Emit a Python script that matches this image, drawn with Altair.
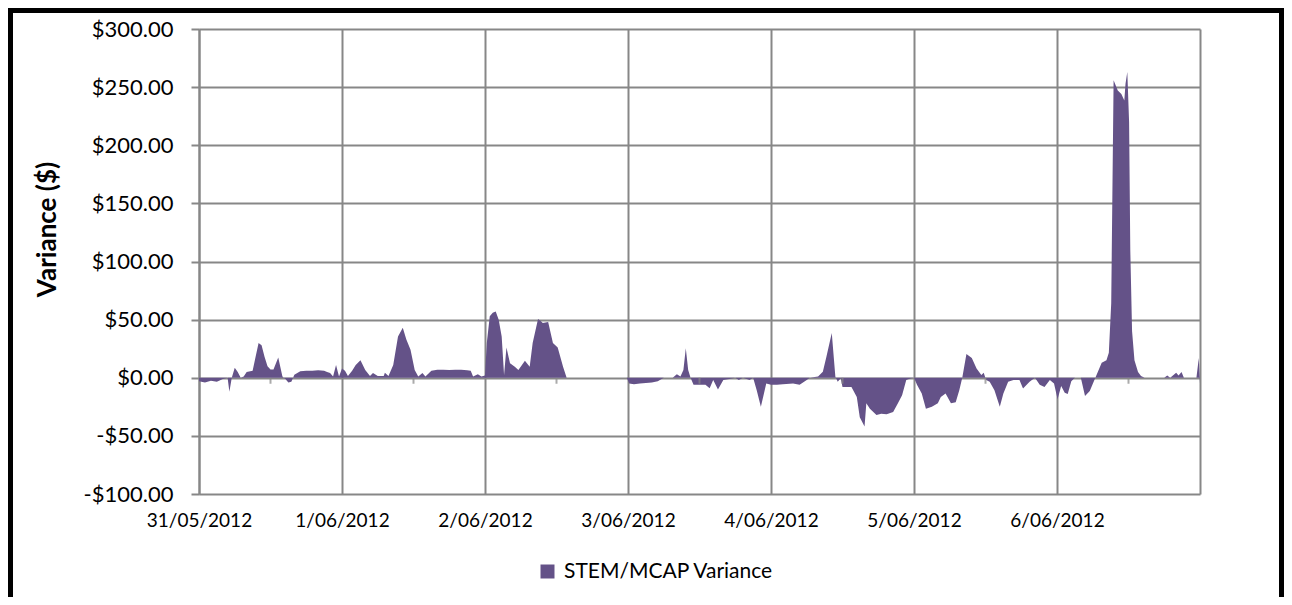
import altair as alt
import pandas as pd

# ---- data (hours since 31/05/2012 00:00, variance in $) ----
hours = [
    0, 1, 2, 3, 4, 4.8, 5.1, 5.5, 6, 6.5, 7, 7.5, 8, 9, 9.5, 10, 10.5, 11, 11.5, 12,
    12.5, 13.3, 14, 14.5, 15, 15.5, 16, 17, 18, 19, 20, 21, 21.5, 22, 22.5, 23, 23.5,
    24, 24.5, 25, 25.7, 26.3, 27.1, 27.9, 28.7, 29.2, 30, 31, 31.2, 31.8, 32.6, 33.4,
    34.2, 34.8, 35.5, 36.2, 36.8, 37.5, 38, 39, 40, 41, 42, 43, 44, 45, 45.6, 46, 46.8, 47.4,
    48, 48.3, 48.8, 49.3, 49.8, 50.3, 50.8, 51.2, 51.6, 52.2, 53, 53.6, 54.2, 54.7, 55.5,
    56, 56.9, 57.3, 57.7, 58.6, 59.4, 60.2, 61.1, 61.7, 64, 68, 71.8,
    72.2, 73, 74, 75, 76, 77, 78, 79.5, 80.2, 80.8, 81.3, 81.7, 82.1, 82.5, 83, 84, 85,
    85.7, 86.3, 87.1, 88, 89, 90, 90.6, 91.3, 92.4, 93, 93.6, 94.3, 95.2,
    96, 97, 98, 99.7, 100.8, 102, 102.5, 103.9, 104.7, 105.3, 106.2, 106.8, 107.2, 107.7,
    108, 109.5, 110.4, 110.9, 111.7, 112, 112.6, 113.7, 114.5, 115.4, 116.5, 117.3, 118,
    118.7, 119.5,
    120, 120.5, 121.3, 122, 123, 124, 124.5, 125.3, 126.2, 127, 127.6, 128.1, 128.8, 129.7,
    130.5, 131.3, 131.7, 132.1, 132.7, 133.5, 134.4, 135, 135.8, 136.7, 137.7, 138.3, 139.4,
    140.3, 141.1, 141.9, 142.8, 143.5,
    144.1, 144.7, 145.3, 145.8, 146.4, 147, 148, 148.7, 149.5, 150.1, 150.6, 151.5, 152.3,
    152.7, 153.1, 153.5, 154.2, 154.8, 155.3, 155.5, 155.8, 156.1, 156.3, 156.6, 157,
    157.6, 158.1, 158.7, 162, 162.5, 163, 164, 164.4, 164.9, 165.3, 167.4, 167.8, 168,
]
variance = [
    -3, -4, -2.5, -3.5, -1, 0, -12, 0, 8.5, 5, 0, 1, 5, 6, 18, 30, 28, 18, 10, 7,
    7, 17.5, 1, -1, -4, -3.5, 2.5, 5.5, 6, 6, 6.5, 6, 5, 4, 1, 11, 1,
    8, 6, 1.5, 6, 11, 15, 6.6, 1.5, 4, 1.5, 1.5, 4.3, 1.5, 11, 35.5,
    43, 33, 24, 6.6, 1, 4, 1, 6, 6.8, 6.8, 6.6, 6.8, 6.8, 6.5, 6, 1, 3, 1,
    2, 30, 53, 56, 57, 50, 35.5, 2.3, 26, 12.4, 9.5, 6.6, 11, 14.7, 9.5,
    30, 50.6, 49, 47, 48, 30, 26, 9.5, 0, 0, 0, 0,
    -5, -5.5, -5, -4.5, -4, -3, 0, 0, 3, 1, 6.6, 25.4, 6.6, 0, -6, -6, -6,
    -9, -2, -10, -2, -1, 0, -2, 0, -2, 0, -10.7, -25, -5,
    -6, -6, -5.5, -5, -6, -2, 0, 1, 5.2, 18, 38.4, 1, -3.5, -0.5,
    -8, -8, -16.5, -34, -42, -22, -26.6, -32, -31, -31.5, -29.5, -22, -15,
    -2, -0.5,
    0, -6, -13.6, -26.6, -25, -22, -16.5, -13.6, -22, -21, -10.7, 0, 20.5, 17,
    8, 2.3, 4.3, -2, -3.5, -10.7, -25, -13.6, -3.5, -2, -2, -9.2, -3.5,
    0, -6, -8, -2, -5,
    -18.6, -7, -13, -14, -3, 0, 0, -15.7, -11.4, -4, 2, 12.9, 15,
    21.4, 64, 256, 247, 244, 238.6, 253, 263, 220, 110, 40, 15,
    5, 1.4, 0, 0, 2, 0, 4.3, 2, 5, 0, 0, 17, -5,
]
assert len(hours) == len(variance)

series_name = "STEM/MCAP Variance"
day_dates = [(2012, 5, 31), (2012, 6, 1), (2012, 6, 2), (2012, 6, 3),
             (2012, 6, 4), (2012, 6, 5), (2012, 6, 6), (2012, 6, 7)]
noon_hours = [12, 36, 60, 84, 108, 132, 156]
y_ticks = [-100, -50, 0, 50, 100, 150, 200, 250, 300]

FILL = "#645288"
GRID = "#878787"
FONT = "Lato"

start = pd.Timestamp("2012-05-31 00:00:00")
df = pd.DataFrame({
    "time": start + pd.to_timedelta(hours, unit="h"),
    "variance": variance,
    "series": series_name,
})
noon_df = pd.DataFrame({"time": start + pd.to_timedelta(noon_hours, unit="h")})

day_values = [alt.DateTime(year=y, month=m, date=d) for (y, m, d) in day_dates]
x_scale = alt.Scale(domain=[day_values[0], day_values[-1]])
y_scale = alt.Scale(domain=[-100, 300], nice=False, zero=False)

x_axis = alt.Axis(
    values=day_values,
    labelExpr="month(datum.value) == 5 && date(datum.value) == 7 ? '' : timeFormat(datum.value, '%-d/%m/%Y')",
    grid=True, gridColor=GRID, gridWidth=2,
    ticks=False, tickSize=0, domain=False,
    labelFont=FONT, labelFontSize=19, labelColor="black", labelPadding=17,
    labelAlign="center", labelFlush=False, labelOverlap=False,
    title=None,
)
y_axis = alt.Axis(
    values=y_ticks,
    labelExpr="datum.value < 0 ? '-$' + format(-datum.value, ',.2f') : '$' + format(datum.value, ',.2f')",
    grid=True, gridColor=GRID, gridWidth=2,
    ticks=True, tickSize=8, tickColor=GRID, tickWidth=2,
    domain=True, domainColor=GRID, domainWidth=2,
    labelFont=FONT, labelFontSize=22, labelColor="black", labelPadding=18,
    title="Variance ($)", titleFont=FONT, titleFontSize=26, titleFontWeight="bold",
    titleColor="black", titleX=-152, titleY=200, titleAngle=270,
    titleAlign="center", titleBaseline="middle", titleLimit=0,
)

area = alt.Chart(df).mark_area(interpolate="linear", opacity=1).encode(
    x=alt.X("time:T", scale=x_scale, axis=x_axis),
    y=alt.Y("variance:Q", scale=y_scale, axis=y_axis),
    y2=alt.datum(0),
    color=alt.Color(
        "series:N",
        scale=alt.Scale(range=[FILL]),
        legend=alt.Legend(
            orient="none", legendX=338, legendY=532, title=None,
            symbolType="square", symbolSize=196, symbolStrokeWidth=0,
            labelFont=FONT, labelFontSize=21, labelColor="black", labelOffset=6,
            labelLimit=0, padding=0,
        ),
    ),
)

noon_ticks = alt.Chart(noon_df).mark_tick(
    orient="vertical", size=6, thickness=2, yOffset=3, color=GRID
).encode(
    x=alt.X("time:T", scale=x_scale),
    y=alt.datum(0),
)

frame = alt.Chart(pd.DataFrame({"k": [0]})).mark_rect(
    fill="transparent", stroke="black", strokeWidth=5, clip=False
).encode(
    x=alt.value(-188.5), x2=alt.value(1082.5),
    y=alt.value(-18.5), y2=alt.value(700),
)

chart = alt.layer(area, noon_ticks, frame).properties(
    width=1001,
    height=465,
    autosize=alt.AutoSizeParams(type="none"),
    padding={"left": 191, "top": 21, "right": 84, "bottom": 103},
    background="white",
).configure_view(strokeWidth=0)

chart.save("out.html", embed_options={"renderer": "svg", "actions": False})
